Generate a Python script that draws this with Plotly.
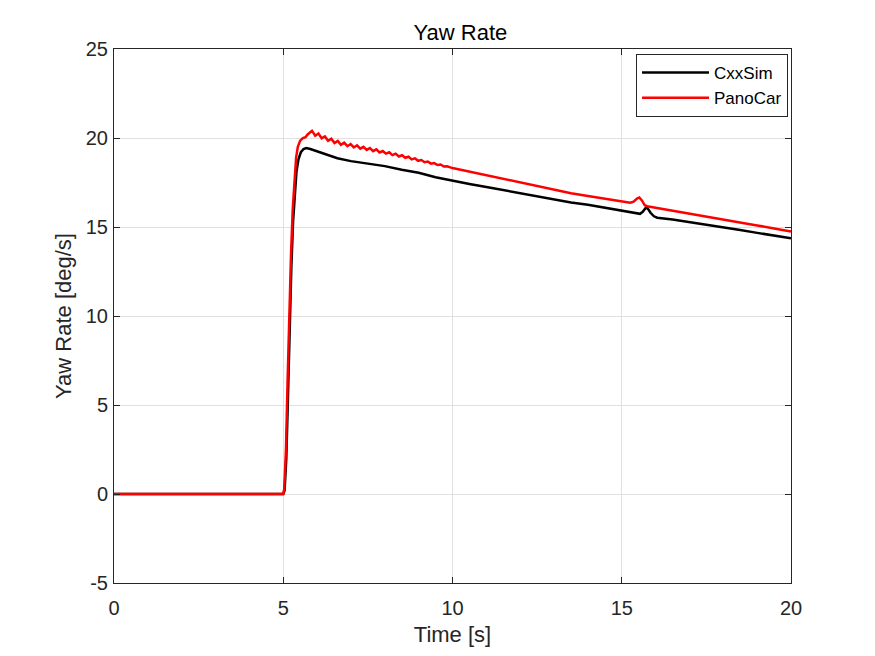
import plotly.graph_objects as go

# CxxSim yaw rate [deg/s]
t_cxx = [0, 5.0, 5.04, 5.09, 5.14, 5.19, 5.24, 5.29, 5.34, 5.39, 5.45, 5.52, 5.6, 5.68,
         5.8, 6.0, 6.3, 6.6, 7.0, 7.5, 8.0, 8.5, 9.0, 9.5, 10.0, 10.5, 11.0, 11.5, 12.0,
         12.5, 13.0, 13.5, 14.0, 14.5, 15.0, 15.3, 15.54, 15.62, 15.7, 15.76, 15.85,
         15.95, 16.05, 16.5, 17.0, 17.5, 18.0, 18.5, 19.0, 19.5, 20.0]
r_cxx = [0, 0, 0.2, 2.0, 5.5, 9.5, 12.8, 15.3, 17.0, 18.1, 18.8, 19.2, 19.38, 19.43,
         19.38, 19.25, 19.05, 18.86, 18.70, 18.55, 18.42, 18.22, 18.05, 17.80, 17.60,
         17.42, 17.25, 17.08, 16.88, 16.70, 16.55, 16.38, 16.25, 16.08, 15.95, 15.85,
         15.74, 15.85, 16.05, 16.06, 15.80, 15.60, 15.52, 15.42, 15.28, 15.14, 14.98,
         14.83, 14.67, 14.52, 14.37]

# PanoCar yaw rate [deg/s]
t_pano = [0, 5.0, 5.03, 5.08, 5.13, 5.18, 5.23, 5.28, 5.33, 5.38, 5.43, 5.5, 5.58, 5.66,
          5.72, 5.78, 5.85, 5.945, 6.04, 6.135, 6.23, 6.325, 6.42, 6.515, 6.61, 6.705,
          6.80, 6.895, 6.99, 7.085, 7.18, 7.275, 7.37, 7.465, 7.56, 7.655, 7.75, 7.845,
          7.94, 8.035, 8.13, 8.225, 8.32, 8.415, 8.51, 8.605, 8.70, 8.795, 8.89, 8.985,
          9.08, 9.175, 9.27, 9.365, 9.46, 9.555, 9.65, 9.745, 9.84, 10.0, 10.5, 11.0,
          11.5, 12.0, 12.5, 13.0, 13.5, 14.0, 14.5, 15.0, 15.25, 15.35, 15.45, 15.52,
          15.6, 15.68, 15.75, 16.0, 16.5, 17.0, 17.5, 18.0, 18.5, 19.0, 19.5, 20.0]
r_pano = [0, 0, 0.3, 2.5, 6.5, 10.5, 13.5, 16.0, 17.8, 18.9, 19.5, 19.85, 20.0, 20.05,
          20.2, 20.3, 20.40, 20.13, 20.25, 19.98, 20.09, 19.84, 19.96, 19.72, 19.84, 19.62,
          19.74, 19.54, 19.66, 19.47, 19.59, 19.40, 19.50, 19.33, 19.43, 19.26, 19.36,
          19.19, 19.27, 19.12, 19.20, 19.04, 19.12, 18.96, 19.03, 18.89, 18.95, 18.80,
          18.86, 18.72, 18.76, 18.64, 18.68, 18.56, 18.59, 18.48, 18.51, 18.40, 18.41,
          18.31, 18.11, 17.90, 17.70, 17.49, 17.29, 17.09, 16.90, 16.74, 16.59, 16.44,
          16.36, 16.42, 16.60, 16.66, 16.48, 16.22, 16.17, 16.08, 15.92, 15.76, 15.60,
          15.42, 15.26, 15.09, 14.92, 14.75]

x_ticks = [0, 5, 10, 15, 20]
y_ticks = [-5, 0, 5, 10, 15, 20, 25]

fig = go.Figure()
fig.add_trace(go.Scatter(x=t_cxx, y=r_cxx, mode='lines', name='CxxSim',
                         line=dict(color='black', width=2.5)))
fig.add_trace(go.Scatter(x=t_pano, y=r_pano, mode='lines', name='PanoCar',
                         line=dict(color='red', width=2.5)))

axis_style = dict(showline=True, mirror='ticks', linecolor='#262626', linewidth=1,
                  ticks='inside', ticklen=6, tickcolor='#262626',
                  showgrid=True, gridcolor='#e0e0e0', zeroline=False,
                  tickfont=dict(size=20, color='#262626'))

fig.update_xaxes(range=[0, 20], tickvals=x_ticks, ticktext=[str(v) for v in x_ticks],
                 ticklabelstandoff=7,
                 title=dict(text='Time [s]', standoff=8, font=dict(size=22, color='#262626')),
                 **axis_style)
fig.update_yaxes(range=[-5, 25], tickvals=y_ticks, ticktext=[str(v) for v in y_ticks],
                 ticklabelstandoff=1,
                 title=dict(text='Yaw Rate [deg/s]', standoff=8, font=dict(size=22, color='#262626')),
                 **axis_style)

fig.update_layout(
    width=875, height=656,
    font=dict(family='Liberation Sans, Arial, sans-serif', color='#262626'),
    title=dict(text='Yaw Rate', x=0.517, xanchor='center', y=0.963, yanchor='middle',
               font=dict(size=22, color='black')),
    plot_bgcolor='white', paper_bgcolor='white',
    margin=dict(l=106, r=92, t=41, b=81, autoexpand=False),
    legend=dict(x=0.9956, y=0.9906, xanchor='right', yanchor='top',
                bordercolor='#262626', borderwidth=1, bgcolor='white',
                itemwidth=67, tracegroupgap=0,
                font=dict(size=17, color='black')),
    showlegend=True,
)

fig.write_html("out.html")
